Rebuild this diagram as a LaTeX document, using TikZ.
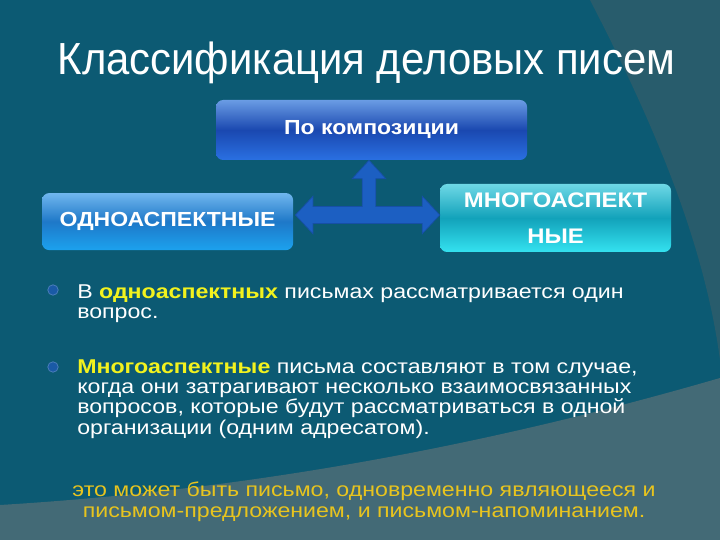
\documentclass[tikz,border=0pt]{standalone}
\usepackage{fontspec}
\setmainfont{Liberation Sans}[FakeStretch=1.13]
\newfontfamily\titlefont{Liberation Sans}[FakeStretch=0.93]
\newfontfamily\bodyfont{Liberation Sans}[FakeStretch=1.16]
\usetikzlibrary{calc}
\definecolor{bgdark}{HTML}{0C5A73}
\definecolor{bgwedge}{HTML}{285C6C}
\definecolor{bgbottom}{HTML}{436A76}
\definecolor{kompTop}{HTML}{6A9CE4}
\definecolor{kompMid}{HTML}{1A48B0}
\definecolor{kompBot}{HTML}{2A70E2}
\definecolor{odnoTop}{HTML}{70B6EE}
\definecolor{odnoMid}{HTML}{1E78C8}
\definecolor{odnoBot}{HTML}{1CA2EE}
\definecolor{mnogoTop}{HTML}{6ED8E6}
\definecolor{mnogoMid}{HTML}{12A2BA}
\definecolor{mnogoBot}{HTML}{34E2F0}
\definecolor{arrowblue}{HTML}{1C5FC2}
\definecolor{arrowedge}{HTML}{164FA6}
\definecolor{hlyellow}{HTML}{F2F21E}
\definecolor{noteyellow}{HTML}{E8C41E}
\definecolor{bulblue}{HTML}{1A5AA6}
\newcommand{\yel}[1]{\textcolor{hlyellow}{\bfseries #1}}

\begin{document}
\begin{tikzpicture}[
  font=\bodyfont\fontsize{14.2}{14.5}\selectfont,
  box/.style={rounded corners=5pt,text=white,align=center,inner sep=0pt,
              font=\normalfont\fontsize{14.5}{17}\bfseries\selectfont},
  txt/.style={text=white,align=left,inner sep=0pt,anchor=north west},
  note/.style={text=noteyellow,align=center,inner sep=0pt,anchor=north,
               font=\bodyfont\fontsize{14.2}{14.9}\selectfont},
  bul/.style={circle,fill=bulblue,draw=bulblue!80!white,line width=0.6pt,
              minimum size=0.26cm,inner sep=0pt},
]
% ---- background ----
\fill[bgdark] (0,0) rectangle (18,13.5);
\fill[bgwedge] (14.75,13.5) .. controls (16.3,10.5) and (17.6,7.5) .. (18,4.5) -- (18,13.5) -- cycle;
\fill[bgbottom] (0,0) -- (0,0.875) .. controls (7,1.3) and (13,2.6) .. (18,4.05) -- (18,0) -- cycle;

% ---- title ----
\node[font=\titlefont\fontsize{32}{38}\selectfont,text=white,anchor=base] (title) at (9.16,11.625)
  {Классификация деловых писем};

% ---- boxes ----
\node[box,minimum width=7.775cm,minimum height=1.5cm,
      top color=kompTop,bottom color=kompBot,middle color=kompMid] (komp) at (9.29,10.25) {По композиции};
\node[box,minimum width=6.275cm,minimum height=1.425cm,
      top color=odnoTop,bottom color=odnoBot,middle color=odnoMid] (odno) at (4.19,7.96) {ОДНОАСПЕКТНЫЕ};
\node[box,minimum width=5.775cm,minimum height=1.7cm,font=\normalfont\fontsize{15}{25.5}\bfseries\selectfont,
      top color=mnogoTop,bottom color=mnogoBot,middle color=mnogoMid] (mnogo) at (13.89,8.05)
  {МНОГОАСПЕКТ\\НЫЕ};

% ---- block arrow ----
\coordinate (hub) at (9.225,8.125);
\coordinate (L) at ($(odno.east |- hub)+(0.05,0)$);
\coordinate (R) at (mnogo.west |- hub);
\coordinate (T) at (komp.south -| hub);
\filldraw[fill=arrowblue,draw=arrowedge,line width=0.5pt]
  (L) -- ($(L)+(0.44,0.47)$) -- ($(L)+(0.44,0.21)$) -- ($(hub)+(-0.17,0.21)$)
  -- ($(T)+(-0.17,-0.46)$) -- ($(T)+(-0.42,-0.46)$) -- (T) -- ($(T)+(0.42,-0.46)$)
  -- ($(T)+(0.17,-0.46)$) -- ($(hub)+(0.17,0.21)$) -- ($(R)+(-0.44,0.21)$)
  -- ($(R)+(-0.44,0.47)$) -- (R) -- ($(R)+(-0.44,-0.47)$) -- ($(R)+(-0.44,-0.21)$)
  -- ($(L)+(0.44,-0.21)$) -- ($(L)+(0.44,-0.47)$) -- cycle;

% ---- bullets ----
\node[bul] (b1) at (1.325,6.25) {};
\node[bul] (b2) at (1.325,4.325) {};
\node[txt] (t1) at (1.925,6.4)
  {В \yel{одноаспектных} письмах рассматривается один\\вопрос.};
\node[txt] (t2) at (1.925,4.525)
  {\yel{Многоаспектные} письма составляют в том случае,\\
   когда они затрагивают несколько взаимосвязанных\\
   вопросов, которые будут рассматриваться в одной\\
   организации (одним адресатом).};

% ---- note ----
\node[note] (note) at (9.1,1.45)
  {это может быть письмо, одновременно являющееся и\\письмом-предложением, и письмом-напоминанием.};
\end{tikzpicture}
\end{document}
